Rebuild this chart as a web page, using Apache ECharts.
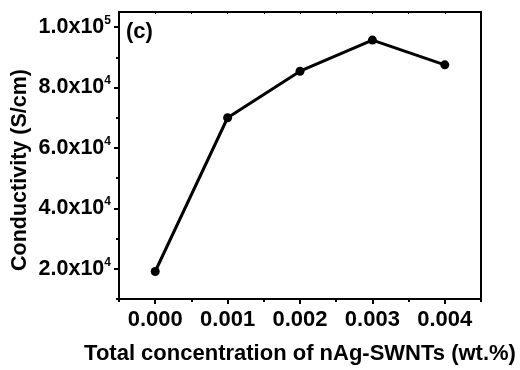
<!DOCTYPE html>
<html>
<head>
<meta charset="utf-8">
<script src="https://cdn.jsdelivr.net/npm/echarts@6/dist/echarts.min.js"></script>
<style>html,body{margin:0;padding:0;background:#fff}#c{width:520px;height:370px}</style>
</head>
<body>
<div id="c"></div>
<script>
const concentration = [0.000, 0.001, 0.002, 0.003, 0.004];
const conductivity = [19100, 70000, 85400, 95700, 87500];
const xMajorTicks = [0.000, 0.001, 0.002, 0.003, 0.004];
const xMinorTicks = [-0.0005, 0.0005, 0.0015, 0.0025, 0.0035, 0.0045];
const xTopTicks = [-0.0005, 0, 0.0005, 0.001, 0.0015, 0.002, 0.0025, 0.003, 0.0035, 0.004, 0.0045];
const yMajorTicks = [20000, 40000, 60000, 80000, 100000];
const yMinorTicks = [10000, 30000, 50000, 70000, 90000];
const xTitle = 'Total concentration of nAg-SWNTs (wt.%)';
const yTitle = 'Conductivity (S/cm)';
const panelLabel = '(c)';

const FONT = 'Liberation Sans, Arial, sans-serif';
const X_MIN = -0.0005, X_MAX = 0.0045, Y_MIN = 10000, Y_MAX = 105000;

function sciLabel(v) {
  const exp = Math.floor(Math.log10(v) + 1e-9);
  const mant = (v / Math.pow(10, exp)).toFixed(1);
  return '{b|' + mant + 'x10}{s|' + exp + '}';
}

const chart = echarts.init(document.getElementById('c'));
const lineStyle = { color: '#000', width: 2 };
chart.setOption({
  animation: false,
  grid: { left: 119, right: 39, top: 12, bottom: 66, containLabel: false },
  xAxis: [
    {
      type: 'value', min: X_MIN, max: X_MAX, position: 'bottom',
      name: xTitle, nameLocation: 'middle', nameGap: 44,
      nameTextStyle: { fontFamily: FONT, fontWeight: 'bold', fontSize: 22, color: '#000' },
      axisLine: { show: true, onZero: false, lineStyle: lineStyle },
      axisTick: { show: true, inside: false, length: 5, lineStyle: lineStyle, customValues: xMajorTicks },
      axisLabel: { show: true, margin: 10, fontFamily: FONT, fontWeight: 'bold', fontSize: 22, color: '#000',
        customValues: xMajorTicks, formatter: v => v.toFixed(3) },
      splitLine: { show: false }
    },
    {
      type: 'value', min: X_MIN, max: X_MAX, position: 'bottom',
      axisLine: { show: false, onZero: false },
      axisTick: { show: true, inside: false, length: 3, lineStyle: lineStyle, customValues: xMinorTicks },
      axisLabel: { show: false },
      splitLine: { show: false }
    },
    {
      type: 'value', min: X_MIN, max: X_MAX, position: 'top',
      axisLine: { show: true, onZero: false, lineStyle: lineStyle },
      axisTick: { show: true, inside: true, length: 2, lineStyle: { color: '#000', width: 1 }, customValues: xTopTicks },
      axisLabel: { show: false },
      splitLine: { show: false }
    }
  ],
  yAxis: [
    {
      type: 'value', min: Y_MIN, max: Y_MAX, position: 'left',
      axisLine: { show: true, onZero: false, lineStyle: lineStyle },
      axisTick: { show: true, inside: false, length: 5, lineStyle: lineStyle, customValues: yMajorTicks },
      axisLabel: { show: true, margin: 8, color: '#000', customValues: yMajorTicks, formatter: sciLabel,
        rich: {
          b: { fontFamily: FONT, fontWeight: 'bold', fontSize: 21.5, color: '#000' },
          s: { fontFamily: FONT, fontWeight: 'bold', fontSize: 12, color: '#000', padding: [0, 0, 13, 0] }
        } },
      splitLine: { show: false }
    },
    {
      type: 'value', min: Y_MIN, max: Y_MAX, position: 'left',
      axisLine: { show: false, onZero: false },
      axisTick: { show: true, inside: false, length: 3, lineStyle: lineStyle, customValues: yMinorTicks },
      axisLabel: { show: false },
      splitLine: { show: false }
    },
    {
      type: 'value', min: Y_MIN, max: Y_MAX, position: 'right',
      axisLine: { show: true, onZero: false, lineStyle: lineStyle },
      axisTick: { show: false },
      axisLabel: { show: false },
      splitLine: { show: false }
    }
  ],
  graphic: [
    { type: 'text', left: 126, top: 21, style: { text: panelLabel, fontFamily: FONT, fontWeight: 'bold', fontSize: 22, fill: '#000' } },
    { type: 'text', x: 20, y: 170, rotation: Math.PI / 2,
      style: { text: yTitle, fontFamily: FONT, fontWeight: 'bold', fontSize: 21.5, fill: '#000', align: 'center', verticalAlign: 'middle' } }
  ],
  series: [{
    type: 'line',
    xAxisIndex: 0, yAxisIndex: 0,
    data: concentration.map((x, i) => [x, conductivity[i]]),
    symbol: 'circle', symbolSize: 9,
    itemStyle: { color: '#000' },
    lineStyle: { color: '#000', width: 3 }
  }]
});
</script>
</body>
</html>
